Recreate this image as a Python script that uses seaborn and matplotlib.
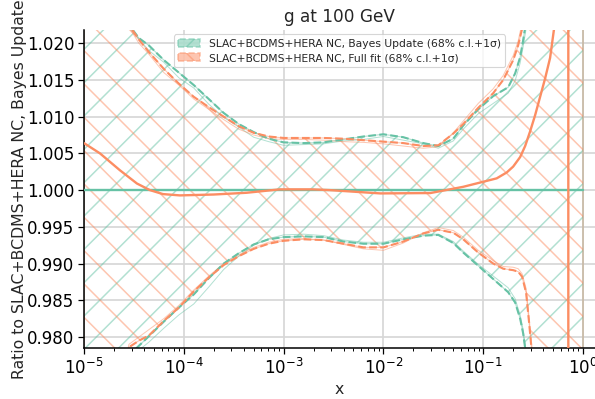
import numpy as np
import pandas as pd
import matplotlib
matplotlib.use("Agg")
import matplotlib.pyplot as plt
import seaborn as sns
from matplotlib.patches import Patch

# ---------------- data ----------------
title = "g at 100 GeV"
xlabel = "x"
ylabel = "Ratio to SLAC+BCDMS+HERA NC, Bayes Update"
labels = ["SLAC+BCDMS+HERA NC, Bayes Update (68% c.l.+1σ)",
          "SLAC+BCDMS+HERA NC, Full fit (68% c.l.+1σ)"]
yticks = [0.980, 0.985, 0.990, 0.995, 1.000, 1.005, 1.010, 1.015, 1.020]
ytick_labels = ["0.980", "0.985", "0.990", "0.995", "1.000", "1.005", "1.010", "1.015", "1.020"]

# Bayes Update (reference) -- log10(x) grid
green_lx = [-5, -4.7, -4.55, -4.45, -4.35, -4.2, -4.05, -3.9, -3.75, -3.6, -3.45, -3.3,
            -3.15, -3.0, -2.8, -2.6, -2.4, -2.2, -2.0, -1.8, -1.6, -1.45, -1.3, -1.2,
            -1.05, -0.9, -0.75, -0.68, -0.63, -0.6, -0.57, -0.5, -0.4, -0.2, 0]
green_cl_up = [1.060, 1.030, 1.0225, 1.0207, 1.0197, 1.0177, 1.0160, 1.0143, 1.0124, 1.0105,
               1.0090, 1.0079, 1.0070, 1.0065, 1.0064, 1.0065, 1.0069, 1.0073, 1.0076, 1.0072,
               1.0064, 1.0060, 1.0070, 1.0088, 1.0110, 1.0128, 1.0140, 1.0159, 1.0181, 1.0204,
               1.023, 1.04, 1.08, 1.3, 2.0]
green_cl_lo = [0.940, 0.965, 0.9775, 0.9788, 0.9801, 0.9821, 0.9840, 0.9858, 0.9880, 0.9900,
               0.9914, 0.9926, 0.9933, 0.9936, 0.9937, 0.9936, 0.9930, 0.9927, 0.9927, 0.9933,
               0.9938, 0.9939, 0.9928, 0.9915, 0.9897, 0.9879, 0.9861, 0.9847, 0.9825, 0.9805,
               0.9775, 0.96, 0.90, 0.70, 0.30]
green_sd_up = [1.060, 1.030, 1.0222, 1.0206, 1.0190, 1.0174, 1.0153, 1.0139, 1.0117, 1.0099,
               1.0086, 1.0072, 1.0066, 1.0061, 1.0062, 1.0063, 1.0067, 1.0069, 1.0073, 1.0068,
               1.0063, 1.0057, 1.0067, 1.0083, 1.0104, 1.0118, 1.0132, 1.0149, 1.0173, 1.0195,
               1.022, 1.037, 1.07, 1.25, 1.9]
green_sd_lo = [0.945, 0.967, 0.9770, 0.9782, 0.9793, 0.9812, 0.9830, 0.9845, 0.9868, 0.9892,
               0.9910, 0.9925, 0.9934, 0.9939, 0.9940, 0.9938, 0.9932, 0.9929, 0.9929, 0.9935,
               0.9940, 0.9940, 0.9930, 0.9917, 0.9899, 0.9883, 0.9867, 0.9852, 0.9830, 0.9810,
               0.978, 0.962, 0.91, 0.72, 0.35]
green_central_lx = [-5, 0]
green_central = [1.0, 1.0]

# Full fit
orange_lx = [-5, -4.7, -4.55, -4.45, -4.35, -4.2, -4.05, -3.9, -3.75, -3.6, -3.45, -3.3,
             -3.15, -3.0, -2.8, -2.6, -2.4, -2.2, -2.0, -1.8, -1.6, -1.45, -1.3, -1.2,
             -1.05, -0.9, -0.8, -0.7, -0.65, -0.61, -0.57, -0.54, -0.5, -0.4, -0.2, 0]
orange_cl_up = [1.060, 1.030, 1.0225, 1.0205, 1.0188, 1.0165, 1.0145, 1.0127, 1.0113, 1.0100,
                1.0087, 1.0078, 1.0073, 1.0071, 1.0071, 1.0071, 1.0070, 1.0068, 1.0066, 1.0064,
                1.0060, 1.0061, 1.0077, 1.0090, 1.0112, 1.0132, 1.0150, 1.0177, 1.0197, 1.0220,
                1.027, 1.035, 1.05, 1.10, 1.40, 2.50]
orange_cl_lo = [0.940, 0.968, 0.9786, 0.9795, 0.9802, 0.9822, 0.9840, 0.9862, 0.9881, 0.9898,
                0.9910, 0.9920, 0.9927, 0.9931, 0.9933, 0.9932, 0.9927, 0.9922, 0.9922, 0.9930,
                0.9941, 0.9946, 0.9942, 0.9933, 0.9915, 0.9900, 0.9893, 0.9891, 0.9889, 0.9882,
                0.9860, 0.9819, 0.976, 0.95, 0.80, 0.40]
orange_sd_up = [1.060, 1.030, 1.0222, 1.0200, 1.0185, 1.0160, 1.0143, 1.0124, 1.0110, 1.0096,
                1.0083, 1.0075, 1.0070, 1.0069, 1.0069, 1.0068, 1.0066, 1.0065, 1.0063, 1.0060,
                1.0057, 1.0059, 1.0078, 1.0094, 1.0118, 1.0138, 1.0156, 1.0183, 1.0203, 1.0228,
                1.028, 1.036, 1.05, 1.10, 1.40, 2.50]
orange_sd_lo = [0.940, 0.969, 0.9790, 0.9800, 0.9810, 0.9825, 0.9843, 0.9864, 0.9883, 0.9900,
                0.9912, 0.9922, 0.9929, 0.9933, 0.9934, 0.9932, 0.9926, 0.9920, 0.9918, 0.9928,
                0.9942, 0.9949, 0.9945, 0.9936, 0.9918, 0.9904, 0.9896, 0.9895, 0.9893, 0.9886,
                0.9866, 0.9826, 0.977, 0.95, 0.80, 0.40]
orange_central_lx = [-5, -4.84, -4.64, -4.47, -4.34, -4.21, -4.04, -3.7, -3.37, -3.04, -2.71,
                     -2.54, -2.03, -1.53, -1.2, -0.865, -0.765, -0.7, -0.63, -0.58, -0.53,
                     -0.48, -0.43, -0.38, -0.33, -0.28, -0.2, -0.16, -0.148, -0.146, -0.1, 0]
orange_central = [1.0064, 1.0050, 1.0027, 1.0009, 1.0000, 0.99946, 0.99928, 0.9994, 0.99964,
                  1.0001, 1.0001, 1.0000, 0.99955, 0.9996, 1.00045, 1.0016, 1.0024, 1.0032,
                  1.0045, 1.0060, 1.0080, 1.0102, 1.0127, 1.0152, 1.0180, 1.0230, 1.06, 1.3,
                  3.0, -3.0, 0.5, 0.7]

GREEN = "#66c2a5"
ORANGE = "#fc8d62"

# ---------------- style ----------------
sns.set_theme(style="ticks")
plt.rcParams.update({
    "font.family": ["DejaVu Sans"],
    "hatch.linewidth": 0.55,
    "axes.edgecolor": "black",
    "axes.linewidth": 0.55,
    "xtick.major.width": 0.45, "ytick.major.width": 0.45,
    "xtick.minor.width": 0.35, "ytick.minor.width": 0.35,
    "xtick.major.size": 2.0, "ytick.major.size": 2.0,
    "xtick.minor.size": 1.2,
    "xtick.color": "black", "ytick.color": "black",
})

fig = plt.figure(figsize=(2.975, 1.995), dpi=200)
ax = fig.add_axes([0.1412, 0.1278, 0.8588, 0.7970])


def df(lx, y):
    return pd.DataFrame({"x": np.power(10.0, np.asarray(lx, float)), "y": y})


# hatched 68% bands
for lx, lo, hi, col, hatch in [(green_lx, green_cl_lo, green_cl_up, GREEN, "//"),
                               (orange_lx, orange_cl_lo, orange_cl_up, ORANGE, "\\\\")]:
    xx = np.power(10.0, np.asarray(lx, float))
    ax.fill_between(xx, lo, hi, facecolor="none", edgecolor=col, hatch=hatch,
                    alpha=0.5, linewidth=0.4, zorder=1)

# central lines
sns.lineplot(data=df(green_central_lx, green_central), x="x", y="y", ax=ax, color=GREEN,
             linewidth=0.85, estimator=None, sort=False, zorder=3)
sns.lineplot(data=df(orange_central_lx, orange_central), x="x", y="y", ax=ax, color=ORANGE,
             linewidth=0.85, estimator=None, sort=False, zorder=3)

# dashed 68% edges and thin 1-sigma lines
for lx, arrs, col in [(green_lx, (green_cl_up, green_cl_lo, green_sd_up, green_sd_lo), GREEN),
                      (orange_lx, (orange_cl_up, orange_cl_lo, orange_sd_up, orange_sd_lo), ORANGE)]:
    for i, a in enumerate(arrs):
        if i < 2:
            sns.lineplot(data=df(lx, a), x="x", y="y", ax=ax, color=col, linewidth=0.75,
                         linestyle="--", estimator=None, sort=False, zorder=2.5)
        else:
            sns.lineplot(data=df(lx, a), x="x", y="y", ax=ax, color=col, linewidth=0.35,
                         alpha=0.5, estimator=None, sort=False, zorder=2.4)

ax.set_xscale("log")
ax.set_xlim(1e-5, 10 ** 0.12)
ax.set_ylim(0.9785, 1.0218)
ax.set_yticks(yticks)
ax.set_yticklabels(ytick_labels)
ax.tick_params(axis="both", which="major", labelsize=6.0, pad=1.5)
ax.grid(True, which="major", color="#d6d6d6", linewidth=0.6)
ax.set_axisbelow(True)
sns.despine(ax=ax)

ax.set_title(title, fontsize=6.1, pad=3)
ax.set_xlabel(xlabel, fontsize=5.7, labelpad=1.5)
ax.set_ylabel(ylabel, fontsize=5.7)
ax.yaxis.set_label_coords(-0.112, 0.5)

handles = [Patch(facecolor=GREEN, edgecolor=GREEN, alpha=0.5, hatch="//", linestyle="--", linewidth=0.6),
           Patch(facecolor=ORANGE, edgecolor=ORANGE, alpha=0.5, hatch="\\\\", linestyle="--", linewidth=0.6)]
leg = ax.legend(handles, labels, loc="upper center", bbox_to_anchor=(0.5, 1.0), fontsize=3.9,
                frameon=True, borderaxespad=0.4, handlelength=2.0, borderpad=0.4,
                labelspacing=0.4, handletextpad=0.8)
leg.get_frame().set_linewidth(0.4)
leg.get_frame().set_edgecolor("#cccccc")

fig.savefig("out.png", dpi=200)
